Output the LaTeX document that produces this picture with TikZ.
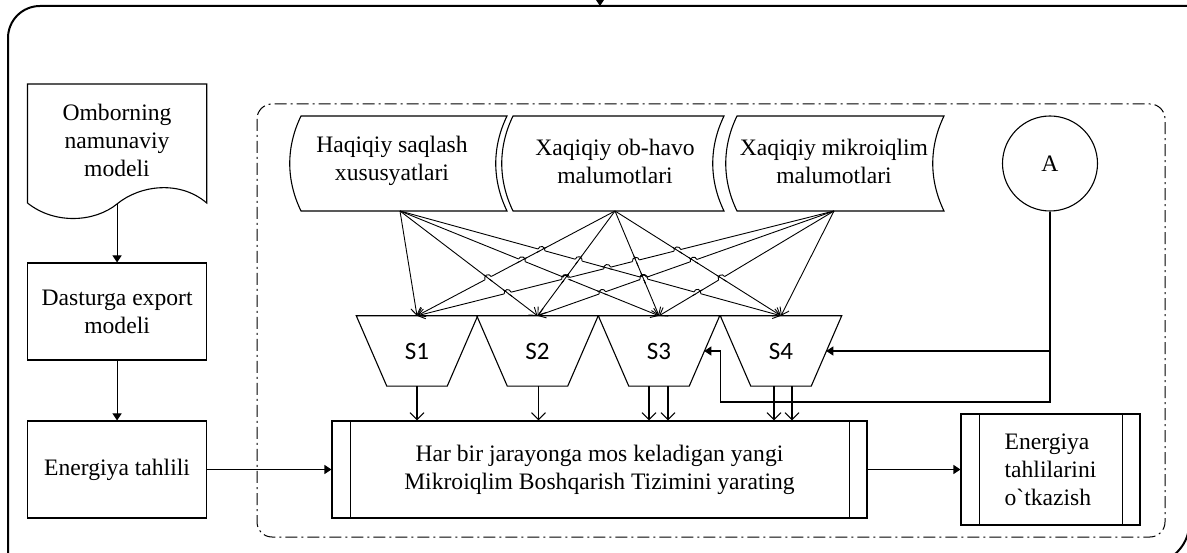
\documentclass[tikz,border=0pt]{standalone}
\usepackage{fontspec}
\setmainfont{Liberation Serif}[Ligatures=TeXOff]
\newfontfamily\calibfont{Carlito}
\usetikzlibrary{arrows.meta,shapes.geometric,calc,intersections}

\newcommand\dshape[2]{%
  \draw[ln] (#1,116) -- (#2,116) .. controls (#2-15,147) and (#2-15,180) .. (#2,211)
    -- (#1,211) .. controls (#1-15,180) and (#1-15,147) .. (#1,116) -- cycle;}

\newcommand\trap[1]{%
  \draw[ln] (#1.north west) -- (#1.north east) -- ($(#1.south east)+(-30.5,0)$)
    -- ($(#1.south west)+(30.5,0)$) -- cycle;}

\newcommand\hop[4]{%
  \path[name intersections={of=p#1#2 and p#3#4, by=X}];
  \draw[white, line width=3pt] ($(X)!3.5pt!(s#1)$) -- ($(X)!3.5pt!(t#2)$);
  \draw[fan] ($(X)!5.5pt!(s#3)$) -- ($(X)!5.5pt!(t#4)$);
  \draw[fan] let \p1=($(t#2)-(s#1)$), \n1={atan2(\y1,\x1)}, \n2={(\x1<0)*180+\n1} in
    ($(X)+(\n2+180:3.5pt)$) arc[start angle=\n2+180, end angle=\n2, radius=3.5pt];}

\begin{document}
\begin{tikzpicture}[x=1pt,y=-1pt,
  every node/.style={font=\fontsize{23.6}{28}\selectfont, align=center},
  ln/.style={line width=1.1pt},
  arrF/.style={ln,-{Triangle[length=7pt,width=9pt]}},
  arrV/.style={ln,-{Straight Barb[length=7pt,width=14pt]}},
  fan/.style={line width=0.9pt},
  fanarr/.style={fan,-{Straight Barb[length=7pt,width=10pt]}},
  box/.style={draw,ln,rectangle,inner sep=0pt},
  sbox/.style={rectangle,minimum width=121pt,minimum height=70pt,inner sep=0pt,
    font=\calibfont\fontsize{25}{30}\selectfont},
  dashdot/.style={line width=1pt,dash pattern=on 12pt off 4pt on 2pt off 4pt}
]
\useasboundingbox (0,0) rectangle (1187,553);

% outer frame (partly outside the picture)
\begin{scope}
  \clip (0,0) rectangle (1187,553);
  \draw[line width=2pt] (1200,6) -- (40,6) arc[start angle=90,end angle=180,radius=32pt] -- (8,570);
  \draw[line width=2pt] (1190,515) .. controls (1190,540) and (1182,550) .. (1165,562);
  \coordinate (topin) at (600,-12);
  \coordinate (topout) at (600,6);
  \draw[arrF] (topin) -- (topout);
\end{scope}

% dash-dot region
\draw[dashdot, rounded corners=15pt] (257,104) rectangle (1165,537);

% left column
\draw[ln] (27.5,203) -- (27.5,84) -- (206.7,84) -- (206.7,203)
  .. controls (180,180) and (140,185) .. (117,204)
  .. controls (95,222) and (55,225) .. (27.5,203) -- cycle;
\node (doc) at (117,140) {Omborning\\namunaviy\\modeli};
\coordinate (docb) at (117.1,204);
\node[box, minimum width=179.2pt, minimum height=97pt] (box2) at (117.1,311.5) {Dasturga export\\modeli};
\node[box, minimum width=179.2pt, minimum height=97pt] (box3) at (117.1,469.5) {Energiya tahlili};

% main process
\node[box, minimum width=535pt, minimum height=97pt] (main) at (599.5,469.5)
  {Har bir jarayonga mos keladigan yangi\\Mikroiqlim Boshqarish Tizimini yarating};
\draw[ln] ($(main.north west)+(19,0)$) -- ($(main.south west)+(19,0)$);
\draw[ln] ($(main.north east)+(-18,0)$) -- ($(main.south east)+(-18,0)$);

% right box
\node[box, minimum width=179pt, minimum height=111pt, align=left] (r) at (1050.5,469.5)
  {Energiya\\tahlilarini\\o`tkazish};
\draw[ln] ($(r.north west)+(19,0)$) -- ($(r.south west)+(19,0)$);
\draw[ln] ($(r.north east)+(-18,0)$) -- ($(r.south east)+(-18,0)$);

% left arrows
\draw[arrF] (docb) -- (box2.north);
\draw[arrF] (box2) -- (box3);
\draw[arrF] (box3) -- (main);
\draw[arrF] (main) -- (r);

% data shapes
\dshape{301}{507}
\dshape{513}{724}
\dshape{737}{944}
\node (d1) at (392,161) {Haqiqiy saqlash\\xususyatlari};
\node (d2) at (615,161) {Xaqiqiy ob-havo\\malumotlari};
\node (d3) at (834,161) {Xaqiqiy mikroiqlim\\malumotlari};
\coordinate (s1) at (400,211);
\coordinate (s2) at (615,211);
\coordinate (s3) at (834,211);

% circle A
\node[draw,ln,circle,minimum size=95pt,inner sep=0pt] (A) at (1050,163.5) {A};

% S blocks
\node[sbox] (S1) at (417,351) {S1};
\node[sbox] (S2) at (537.5,351) {S2};
\node[sbox] (S3) at (659,351) {S3};
\node[sbox] (S4) at (781,351) {S4};
\trap{S1}\trap{S2}\trap{S3}\trap{S4}
\foreach \k in {1,2,3,4} {\coordinate (t\k) at (S\k.north);}
\coordinate (S3r) at ($(S3.center)+(45.25,0)$);
\coordinate (S4r) at ($(S4.center)+(45.25,0)$);

% A feedback lines
\draw[arrF] (A.south) |- (S4r);
\coordinate (ja) at (A.south |- S4r);
\coordinate (c1) at (720.6,402);
\draw[arrF] (ja) |- (c1) |- (S3r);

% S -> main
\draw[arrV] ($(S1.south)+(0,0)$) coordinate (b1) -- (b1 |- main.north);
\draw[arrV] ($(S2.south)+(1,0)$) coordinate (b2) -- (b2 |- main.north);
\draw[arrV] ($(S3.south)+(-10,0)$) coordinate (b3) -- (b3 |- main.north);
\draw[arrV] ($(S3.south)+(9,0)$) coordinate (b4) -- (b4 |- main.north);
\draw[arrV] ($(S4.south)+(-7,0)$) coordinate (b5) -- (b5 |- main.north);
\draw[arrV] ($(S4.south)+(11,0)$) coordinate (b6) -- (b6 |- main.north);

% fan lines
\foreach \i in {1,2,3} {
  \foreach \j in {1,2,3,4} {
    \draw[fanarr, name path global=p\i\j] (s\i) -- (t\j);
  }
}
% line hops
\hop{2}{1}{1}{2}
\hop{1}{3}{2}{1}
\hop{1}{3}{2}{2}
\hop{1}{4}{2}{1}
\hop{1}{4}{2}{2}
\hop{1}{4}{2}{3}
\hop{3}{1}{1}{2}
\hop{3}{1}{1}{3}
\hop{3}{2}{1}{3}
\hop{3}{1}{1}{4}
\hop{1}{4}{3}{2}
\hop{1}{4}{3}{3}
\hop{3}{1}{2}{2}
\hop{3}{1}{2}{3}
\hop{3}{2}{2}{3}
\hop{3}{1}{2}{4}
\hop{3}{2}{2}{4}
\hop{3}{3}{2}{4}
\end{tikzpicture}
\end{document}
